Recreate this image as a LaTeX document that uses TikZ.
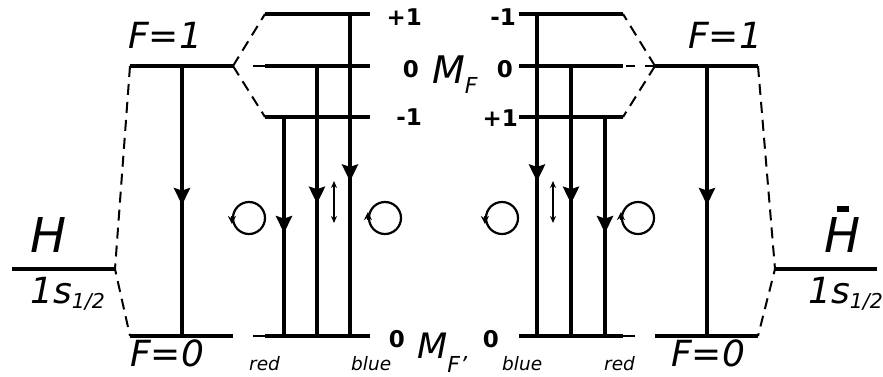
\documentclass[tikz,border=0pt]{standalone}
\usepackage{fontspec}
\setmainfont{DejaVu Sans}
\usetikzlibrary{arrows.meta,decorations.markings,calc}
\begin{document}
\begin{tikzpicture}[x=1pt,y=-1pt,
  level/.style={line width=3.5pt},
  trans/.style={line width=3.8pt, postaction={decorate},
    decoration={markings, mark=at position #1 with {\arrow{Stealth[length=17pt,width=16pt,inset=2.5pt]}}}},
  trans/.default=0.52,
  dsh/.style={line width=2pt, dash pattern=on 11pt off 7pt},
  gapdash/.style={line width=2pt, dash pattern=on 0pt off 20pt on 12pt},
  pol/.style={circle, draw, line width=2.2pt, minimum size=32pt, inner sep=0pt},
  polarr/.style={line width=1.8pt, -{Stealth[length=8pt,width=8pt]}},
  lin/.style={line width=1.5pt, {Stealth[length=7pt,width=6pt]}-{Stealth[length=7pt,width=6pt]}},
  lbl/.style={inner sep=0pt, font=\fontsize{36}{36}\selectfont\itshape},
  big/.style={inner sep=0pt, font=\fontsize{48}{48}\selectfont\itshape},
  orb/.style={inner sep=0pt, font=\fontsize{36}{36}\selectfont\itshape},
  num/.style={inner sep=0pt, font=\fontsize{23}{23}\selectfont\bfseries},
  tiny/.style={inner sep=0pt, font=\fontsize{18.5}{18.5}\selectfont\itshape}]
\useasboundingbox (0,0) rectangle (883,376);

% ---------- left (H) ----------
\coordinate (LF1a) at (130,66);  \coordinate (LF1v) at (233,66);
\coordinate (LF0a) at (130,336); \coordinate (LF0v) at (233,336);
\coordinate (LHa) at (12,269);   \coordinate (LHb) at (115,269);
\coordinate (Lp1a) at (265,14);  \coordinate (Lp1b) at (370,14);
\coordinate (Lz1a) at (265,66);  \coordinate (Lz1b) at (370,66);
\coordinate (Lm1a) at (265,117); \coordinate (Lm1b) at (370,117);
\coordinate (Lg0a) at (265,336); \coordinate (Lg0b) at (370,336);

\draw[level] (LF1a) -- (LF1v);
\draw[level] (LF0a) -- (LF0v);
\draw[level] (LHa) -- (LHb);
\draw[level] (Lp1a) -- (Lp1b);
\draw[level] (Lz1a) -- (Lz1b);
\draw[level] (Lm1a) -- (Lm1b);
\draw[level] (Lg0a) -- (Lg0b);

\draw[dsh] (LF1a) -- (LHb) -- (LF0a);
\draw[dsh] (LF1v) -- (Lp1a);
\draw[dsh] (LF1v) -- (Lm1a);
\draw[gapdash] (LF1v) -- (Lz1a);
\draw[gapdash] (LF0v) -- (Lg0a);

\coordinate (vLa1) at (182,66);  \coordinate (vLa2) at (182,336);
\coordinate (vLb1) at (284,117); \coordinate (vLb2) at (284,336);
\coordinate (vLc1) at (317,66);  \coordinate (vLc2) at (317,336);
\coordinate (vLd1) at (350,14);  \coordinate (vLd2) at (350,336);
\draw[trans=0.515] (vLa1) -- (vLa2);
\draw[trans=0.53] (vLb1) -- (vLb2);
\draw[trans=0.51] (vLc1) -- (vLc2);
\draw[trans=0.52] (vLd1) -- (vLd2);

\node[pol] (cL1) at (249,218) {};
\node[pol] (cL2) at (385,218) {};
\draw[polarr] ($(cL1.west)+(0,-2)$) -- ($(cL1.west)+(0,6)$);
\draw[polarr] ($(cL2.west)+(0,2)$) -- ($(cL2.west)+(0,-6)$);
\coordinate (dL1) at (334,181); \coordinate (dL2) at (334,223);
\draw[lin] (dL1) -- (dL2);

\node[big, anchor=base] (tHL) at (49,252) {H};
\node[orb, anchor=base west] (tSL) at (30,303) {1s\raisebox{-5pt}{\fontsize{20.5}{20.5}\selectfont 1/2}};
\node[lbl, anchor=base west] (tF1L) at (128,48) {F=1};
\node[lbl, anchor=base west] (tF0L) at (130,366) {F=0};
\node[num, anchor=base east] (nLp) at (422,25) {+1};
\node[num, anchor=base east] (nLz) at (419,77) {0};
\node[num, anchor=base east] (nLm) at (422,125) {-1};
\node[num, anchor=base east] (nLg) at (405,347) {0};
\node[tiny, anchor=base west] (tRedL) at (249,370) {red};
\node[tiny, anchor=base west] (tBlueL) at (351,370) {blue};

% ---------- middle labels ----------
\node[inner sep=0pt, anchor=base west, font=\fontsize{38}{38}\selectfont\itshape] (tMF) at (432,83)
  {M\raisebox{-10pt}{\fontsize{22}{22}\selectfont F}};
\node[inner sep=0pt, anchor=base west, font=\fontsize{35}{35}\selectfont\itshape] (tMFp) at (417,358)
  {M\raisebox{-14pt}{\fontsize{22}{22}\selectfont F'}};

% ---------- right (anti-H) ----------
\coordinate (RF1v) at (655,66);  \coordinate (RF1b) at (758,66);
\coordinate (RF0v) at (655,336); \coordinate (RF0b) at (758,336);
\coordinate (RHa) at (775,269);  \coordinate (RHb) at (877,269);
\coordinate (Rm1a) at (519,14);  \coordinate (Rm1b) at (623,14);
\coordinate (Rz1a) at (519,66);  \coordinate (Rz1b) at (623,66);
\coordinate (Rp1a) at (519,117); \coordinate (Rp1b) at (623,117);
\coordinate (Rg0a) at (519,336); \coordinate (Rg0b) at (623,336);

\draw[level] (RF1v) -- (RF1b);
\draw[level] (RF0v) -- (RF0b);
\draw[level] (RHa) -- (RHb);
\draw[level] (Rm1a) -- (Rm1b);
\draw[level] (Rz1a) -- (Rz1b);
\draw[level] (Rp1a) -- (Rp1b);
\draw[level] (Rg0a) -- (Rg0b);

\draw[dsh] (RF1b) -- (RHa) -- (RF0b);
\draw[dsh] (RF1v) -- (Rm1b);
\draw[dsh] (RF1v) -- (Rp1b);
\draw[line width=2pt, dash pattern=on 10pt off 10pt on 9pt] (RF1v) -- (Rz1b);
\draw[gapdash] (RF0v) -- (Rg0b);

\coordinate (vRa1) at (537,14);  \coordinate (vRa2) at (537,336);
\coordinate (vRb1) at (571,66);  \coordinate (vRb2) at (571,336);
\coordinate (vRc1) at (605,117); \coordinate (vRc2) at (605,336);
\coordinate (vRd1) at (707,66);  \coordinate (vRd2) at (707,336);
\draw[trans=0.52] (vRa1) -- (vRa2);
\draw[trans=0.51] (vRb1) -- (vRb2);
\draw[trans=0.53] (vRc1) -- (vRc2);
\draw[trans=0.515] (vRd1) -- (vRd2);

\node[pol] (cR1) at (502,218) {};
\node[pol] (cR2) at (638,218) {};
\draw[polarr] ($(cR1.west)+(0,-2)$) -- ($(cR1.west)+(0,6)$);
\draw[polarr] ($(cR2.west)+(0,2)$) -- ($(cR2.west)+(0,-6)$);
\coordinate (dR1) at (553,181); \coordinate (dR2) at (553,223);
\draw[lin] (dR1) -- (dR2);

\node[big, anchor=base] (tHR) at (843,252) {H};
\node[fill=black, inner sep=0pt, minimum width=12pt, minimum height=6pt] (hbar) at (843,208.5) {};
\node[orb, anchor=base west] (tSR) at (808,303) {1s\raisebox{-5pt}{\fontsize{20.5}{20.5}\selectfont 1/2}};
\node[lbl, anchor=base west] (tF1R) at (688,48) {F=1};
\node[lbl, anchor=base west] (tF0R) at (671,366) {F=0};
\node[num, anchor=base east] (nRm) at (516,25) {-1};
\node[num, anchor=base east] (nRz) at (513,77) {0};
\node[num, anchor=base east] (nRp) at (518,126) {+1};
\node[num, anchor=base east] (nRg) at (499,347) {0};
\node[tiny, anchor=base west] (tBlueR) at (502,370) {blue};
\node[tiny, anchor=base west] (tRedR) at (604,370) {red};
\end{tikzpicture}
\end{document}
